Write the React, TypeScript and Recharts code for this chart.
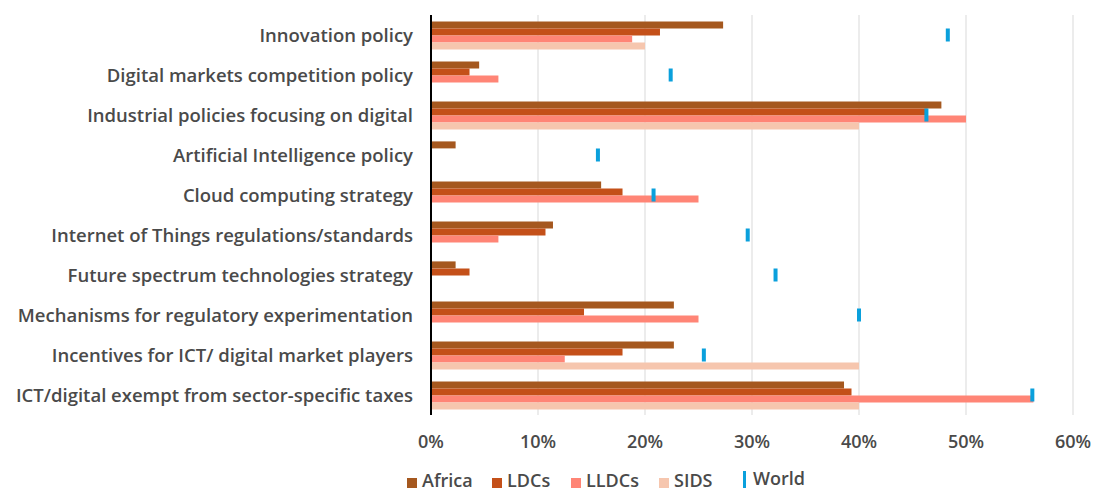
import { ComposedChart, Bar, Scatter, XAxis, YAxis, CartesianGrid, Legend } from "recharts";

const categories = [
  "Innovation policy",
  "Digital markets competition policy",
  "Industrial policies focusing on digital",
  "Artificial Intelligence policy",
  "Cloud computing strategy",
  "Internet of Things regulations/standards",
  "Future spectrum technologies strategy",
  "Mechanisms for regulatory experimentation",
  "Incentives for ICT/ digital market players",
  "ICT/digital exempt from sector-specific taxes",
];
const africa = [27.3, 4.5, 47.7, 2.3, 15.9, 11.4, 2.3, 22.7, 22.7, 38.6];
const ldcs = [21.4, 3.6, 46.4, null, 17.9, 10.7, 3.6, 14.3, 17.9, 39.3];
const lldcs = [18.8, 6.3, 50, null, 25, 6.3, null, 25, 12.5, 56.3];
const sids = [20, null, 40, null, null, null, null, null, 40, 40];
const world = [48.3, 22.4, 46.3, 15.6, 20.8, 29.6, 32.2, 40, 25.5, 56.2];
const xTicks = [0, 10, 20, 30, 40, 50, 60];

const series = [
  { key: "africa", name: "Africa", color: "#A5581F" },
  { key: "ldcs", name: "LDCs", color: "#C45019" },
  { key: "lldcs", name: "LLDCs", color: "#FF8576" },
  { key: "sids", name: "SIDS", color: "#F6C6AE" },
];
const WORLD_COLOR = "#0AA0DC";
const FONT = "'Open Sans', Lato, sans-serif";
const TEXT = "#4A4A4A";

const data = categories.map((name, i) => ({
  name,
  africa: africa[i],
  ldcs: ldcs[i],
  lldcs: lldcs[i],
  sids: sids[i],
  world: world[i],
}));

const WorldMark = (props: any) => {
  const { cx, cy } = props;
  if (cx == null || cy == null) return null;
  return <rect x={cx - 2} y={cy - 6.5} width={4} height={13} fill={WORLD_COLOR} />;
};

const legendPos = [
  { sq: 407, tx: 422 },
  { sq: 492, tx: 507 },
  { sq: 571, tx: 586 },
  { sq: 659, tx: 674 },
];

// legend sits low like the original, kept just inside the bottom edge
const renderLegend = () => (
  <div style={{ position: "relative", width: 1096, height: 21, fontFamily: FONT, fontWeight: 600, fontSize: 18, color: TEXT }}>
    {series.map((s, i) => (
      <div key={s.key}>
        <div style={{ position: "absolute", left: legendPos[i].sq, top: 8, width: 10, height: 10, background: s.color }} />
        <div style={{ position: "absolute", left: legendPos[i].tx, top: 0, lineHeight: "20px", whiteSpace: "nowrap" }}>{s.name}</div>
      </div>
    ))}
    <div style={{ position: "absolute", left: 743, top: 1, width: 3, height: 17, background: WORLD_COLOR }} />
    <div style={{ position: "absolute", left: 753, top: -2, lineHeight: "20px", whiteSpace: "nowrap" }}>World</div>
  </div>
);

export default function App() {
  return (
    <div style={{ position: "absolute", left: 0, top: 0, width: 1096, height: 491, background: "#fff" }}>
      <ComposedChart
        width={1096}
        height={491}
        data={data}
        layout="vertical"
        margin={{ top: 15, right: 23, left: 0, bottom: 36 }}
        barCategoryGap="16%"
        barGap={0}
      >
        <CartesianGrid horizontal={false} stroke="#D9D9D9" />
        <XAxis
          type="number"
          domain={[0, 60]}
          ticks={xTicks}
          tickFormatter={(v) => `${v}%`}
          axisLine={false}
          tickLine={false}
          tickSize={0}
          tickMargin={20}
          height={40}
          tick={{ fill: TEXT, fontSize: 18, fontWeight: 600, fontFamily: FONT }}
        />
        <YAxis
          type="category"
          dataKey="name"
          width={431}
          axisLine={{ stroke: "#000", strokeWidth: 2 }}
          tickLine={false}
          tickSize={0}
          tickMargin={18}
          interval={0}
          tick={{ fill: TEXT, fontSize: 18.5, fontWeight: 600, fontFamily: FONT }}
        />
        {series.map((s) => (
          <Bar key={s.key} dataKey={s.key} name={s.name} fill={s.color} isAnimationActive={false} />
        ))}
        <Scatter dataKey="world" name="World" fill={WORLD_COLOR} shape={WorldMark} isAnimationActive={false} />
        <Legend layout="horizontal" verticalAlign="middle" align="center" wrapperStyle={{ top: 470, left: 0, width: 1096, height: 21 }} content={renderLegend} />
      </ComposedChart>
    </div>
  );
}
